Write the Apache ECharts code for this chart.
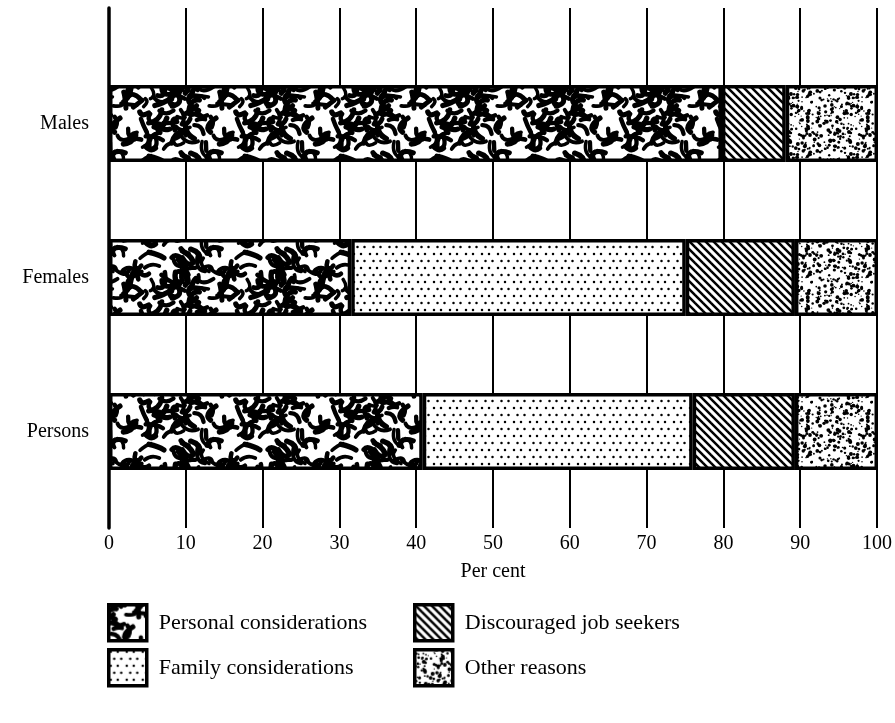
<!DOCTYPE html>
<html>
<head>
<meta charset="utf-8">
<script src="https://cdn.jsdelivr.net/npm/echarts@6/dist/echarts.min.js"></script>
<style>html,body{margin:0;padding:0;background:#fff}#c{width:895px;height:723px}</style>
</head>
<body>
<div id="c"></div>
<script>
// ---- data ----
var categories = ['Males', 'Females', 'Persons'];
var personal = [79.7, 31.5, 40.8];
var family = [0, 43.5, 35.1];
var discouraged = [8.3, 14.2, 13.3];
var other = [12.0, 10.8, 10.8];
var xTicks = [0, 10, 20, 30, 40, 50, 60, 70, 80, 90, 100];
var seriesNames = ['Personal considerations', 'Family considerations', 'Discouraged job seekers', 'Other reasons'];

// ---- texture helpers (styling only) ----
function lcg(seed) { var s = seed; return function () { s = (s * 1103515245 + 12345) % 2147483648; return s / 2147483648; }; }
function tile(w, h, draw) { var c = document.createElement('canvas'); c.width = w; c.height = h; var g = c.getContext('2d'); g.fillStyle = '#fff'; g.fillRect(0, 0, w, h); draw(g, w, h); return c; }

var wormCanvas = tile(96, 96, function (g, w, h) {
  var r = lcg(11);
  g.strokeStyle = '#000'; g.lineCap = 'round'; g.lineJoin = 'round';
  for (var i = 0; i < 95; i++) {
    var x = r() * w, y = r() * h, a = r() * Math.PI * 2, len = 7 + r() * 12;
    var bend = (r() - 0.5) * 3.0;
    g.lineWidth = 3.4 + r() * 2.2;
    var mx = x + Math.cos(a + bend) * len * 0.6, my = y + Math.sin(a + bend) * len * 0.6;
    var ex = x + Math.cos(a) * len, ey = y + Math.sin(a) * len;
    for (var ox = -w; ox <= w; ox += w) for (var oy = -h; oy <= h; oy += h) {
      g.beginPath();
      g.moveTo(x + ox, y + oy);
      g.quadraticCurveTo(mx + ox, my + oy, ex + ox, ey + oy);
      g.stroke();
    }
  }
});
var familyCanvas = tile(16, 14, function (g) {
  g.fillStyle = '#000';
  [[2, 2], [9, 2], [5.5, 9], [12.5, 9]].forEach(function (p) { g.beginPath(); g.arc(p[0], p[1], 1.25, 0, Math.PI * 2); g.fill(); });
});
var hatchCanvas = tile(8, 8, function (g) {
  g.strokeStyle = '#000'; g.lineWidth = 2.5;
  [-8, 0, 8].forEach(function (o) { g.beginPath(); g.moveTo(o - 1, -1); g.lineTo(o + 9, 9); g.stroke(); });
});
var speckleCanvas = tile(60, 60, function (g, w, h) {
  var r = lcg(31);
  g.fillStyle = '#000';
  for (var i = 0; i < 230; i++) {
    var x = r() * w, y = r() * h, rad = 0.6 + r() * 1.4;
    for (var ox = -w; ox <= w; ox += w) for (var oy = -h; oy <= h; oy += h) {
      g.beginPath(); g.arc(x + ox, y + oy, rad, 0, Math.PI * 2); g.fill();
    }
  }
});
var fills = [wormCanvas, familyCanvas, hatchCanvas, speckleCanvas].map(function (c) { return { image: c, repeat: 'repeat' }; });
var values = [personal, family, discouraged, other];

var FONT = 'Liberation Serif';
var chart = echarts.init(document.getElementById('c'), null, { renderer: 'canvas' });

var series = seriesNames.map(function (n, i) {
  return {
    name: n, type: 'bar', stack: 'total', xAxisIndex: 1, yAxisIndex: 1,
    barWidth: 77, data: values[i],
    itemStyle: { color: fills[i], borderColor: '#000', borderWidth: 3.5 },
    emphasis: { disabled: true }
  };
});

function legendAt(name, left, top) {
  return {
    data: [name], left: left, top: top, orient: 'horizontal', padding: 0,
    itemWidth: 38, itemHeight: 36, selectedMode: false, icon: 'rect',
    itemStyle: { borderColor: '#000', borderWidth: 3.5 },
    textStyle: { fontFamily: FONT, fontSize: 22, color: '#000', padding: [0, 0, 0, 7] }
  };
}

chart.setOption({
  animation: false,
  backgroundColor: '#fff',
  grid: [
    { left: 109, right: 17, top: 8, bottom: 195 },
    { left: 109, right: 17, top: 46.5, bottom: 214.5 }
  ],
  xAxis: [
    {
      gridIndex: 0, type: 'value', min: 0, max: 100, interval: 10,
      axisLine: { show: false }, axisTick: { show: false },
      splitLine: { show: true, lineStyle: { color: '#000', width: 2 } },
      axisLabel: { color: '#000', fontFamily: FONT, fontSize: 20, margin: 6,
        formatter: function (v) { return xTicks.indexOf(v) >= 0 ? String(v) : ''; } },
      name: 'Per cent', nameLocation: 'middle', nameGap: 34,
      nameTextStyle: { color: '#000', fontFamily: FONT, fontSize: 20 }
    },
    { gridIndex: 1, type: 'value', min: 0, max: 100, show: false }
  ],
  yAxis: [
    { gridIndex: 0, type: 'value', min: 0, max: 1, axisLabel: { show: false }, axisTick: { show: false },
      splitLine: { show: false }, axisLine: { show: true, lineStyle: { color: '#000', width: 3.5 } } },
    { gridIndex: 1, type: 'category', data: categories, inverse: true,
      axisLine: { show: false }, axisTick: { show: false }, splitLine: { show: false },
      axisLabel: { color: '#000', fontFamily: FONT, fontSize: 20, margin: 20 } }
  ],
  legend: [
    legendAt(seriesNames[0], 107, 603),
    legendAt(seriesNames[1], 107, 648),
    legendAt(seriesNames[2], 413, 603),
    legendAt(seriesNames[3], 413, 648)
  ],
  series: series
});
</script>
</body>
</html>
